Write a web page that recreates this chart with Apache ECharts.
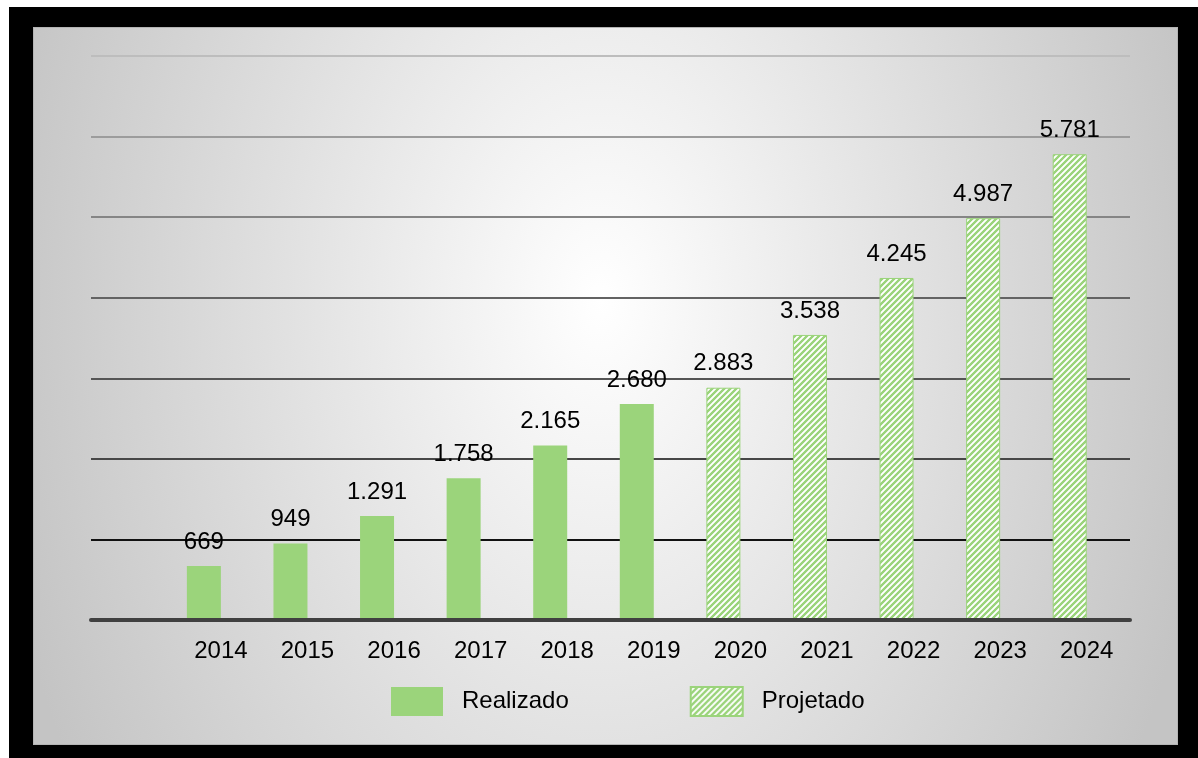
<!DOCTYPE html>
<html>
<head>
<meta charset="utf-8">
<script src="https://cdn.jsdelivr.net/npm/echarts@6/dist/echarts.min.js"></script>
<style>
  html, body { margin: 0; padding: 0; background: #ffffff; width: 1198px; height: 758px; overflow: hidden; }
  #frame { position: absolute; left: 9px; top: 7px; width: 1189px; height: 751px; background: #000000; }
  #chart {
    position: absolute; left: 33px; top: 27px; width: 1145px; height: 718px;
    box-sizing: border-box; border: 1px solid #b4b4b4;
    background: radial-gradient(ellipse 620px 900px at 567px 273px, #ffffff 0%, #c4c4c4 100%);
  }
</style>
</head>
<body>
<div id="frame"></div>
<div id="chart"></div>
<script>
// Years on the category axis (first slot left empty)
const years = ['', '2014', '2015', '2016', '2017', '2018', '2019', '2020', '2021', '2022', '2023', '2024'];
// Realised values 2014-2019
const realizado = [null, 669, 949, 1291, 1758, 2165, 2680, null, null, null, null, null];
// Projected values 2020-2024
const projetado = [null, null, null, null, null, null, null, 2883, 3538, 4245, 4987, 5781];
// Empty companion series that shifts the bars left inside each slot
const spacer = [0, 0, 0, 0, 0, 0, 0, 0, 0, 0, 0, 0];

const GREEN = '#9bd47b';
const FONT = '"Liberation Sans", Arial, sans-serif';

// Diagonal hatch tile for projected bars
function hatchPattern() {
  const size = 6;
  const c = document.createElement('canvas');
  c.width = size; c.height = size;
  const ctx = c.getContext('2d');
  const img = ctx.createImageData(size, size);
  const g = [155, 212, 123];
  for (let y = 0; y < size; y++) {
    for (let x = 0; x < size; x++) {
      const s = Math.cos(2 * Math.PI * (x + y) / size);
      const w = Math.max(0, Math.min(1, 0.75 + s * 1.1));
      const i = (y * size + x) * 4;
      img.data[i] = Math.round(255 + (g[0] - 255) * w);
      img.data[i + 1] = Math.round(255 + (g[1] - 255) * w);
      img.data[i + 2] = Math.round(255 + (g[2] - 255) * w);
      img.data[i + 3] = 255;
    }
  }
  ctx.putImageData(img, 0, 0);
  return c;
}

function fmt(v) {
  return String(v).replace(/\B(?=(\d{3})+(?!\d))/g, '.');
}

const labelStyle = {
  show: true,
  position: 'top',
  distance: 12,
  fontSize: 24,
  fontFamily: FONT,
  color: '#000000',
  formatter: p => fmt(p.value)
};

const chart = echarts.init(document.getElementById('chart'), null, { renderer: 'canvas' });
chart.setOption({
  backgroundColor: 'transparent',
  animation: false,
  grid: { left: 57, right: 47, top: 28, bottom: 124 },
  legend: {
    data: ['Realizado', 'Projetado'],
    left: 357,
    top: 658,
    padding: 0,
    icon: 'rect',
    itemWidth: 52,
    itemHeight: 29,
    itemGap: 121,
    textStyle: { fontSize: 24, fontFamily: FONT, color: '#000000', padding: [5, 0, 0, 14] }
  },
  xAxis: {
    type: 'category',
    data: years,
    axisTick: { show: false },
    axisLine: { lineStyle: { color: '#404040', width: 4 } },
    axisLabel: { fontSize: 24, fontFamily: FONT, color: '#000000', margin: 19, interval: 0 },
    splitLine: { show: false },
    z: 3
  },
  yAxis: {
    type: 'value',
    min: 0,
    max: 7000,
    interval: 1000,
    axisLabel: { show: false },
    axisLine: { show: false },
    axisTick: { show: false },
    splitLine: {
      lineStyle: {
        width: 2,
        color: ['#404040', '#111111', '#474747', '#555555', '#636363', '#858585', '#9c9c9c', '#bdbdbd']
      }
    }
  },
  series: [
    {
      name: 'Realizado',
      type: 'bar',
      stack: 'v',
      data: realizado,
      barWidth: 34,
      barGap: '0%',
      itemStyle: { color: GREEN },
      label: labelStyle
    },
    {
      name: 'Projetado',
      type: 'bar',
      stack: 'v',
      data: projetado,
      barWidth: 34,
      barGap: '0%',
      itemStyle: {
        color: { image: hatchPattern(), repeat: 'repeat' },
        borderColor: GREEN,
        borderWidth: 1
      },
      label: labelStyle
    },
    {
      name: 'spacer',
      type: 'bar',
      data: spacer,
      barWidth: 34,
      barGap: '0%',
      itemStyle: { color: 'transparent' },
      silent: true
    }
  ]
});
</script>
</body>
</html>
